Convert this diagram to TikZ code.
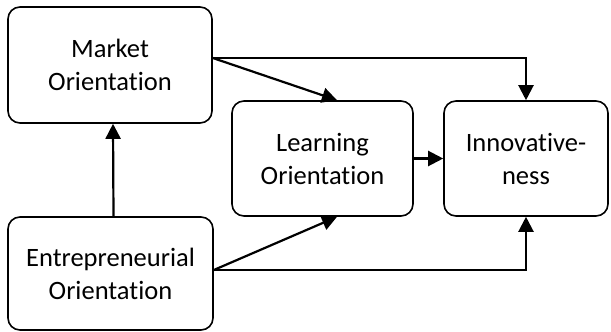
\documentclass[tikz,border=0pt]{standalone}
\usepackage{fontspec}
\setmainfont[Ligatures={NoCommon}]{Carlito}
\usetikzlibrary{arrows.meta}
\begin{document}
\begin{tikzpicture}[x=1pt,y=-1pt,
  box/.style={draw=black, line width=1.6pt, rounded corners=12pt, align=center,
    inner sep=0pt, font=\fontsize{26.5}{33}\selectfont},
  arr/.style={line width=2.2pt, -{Triangle[length=15pt,width=15pt]}}]
\useasboundingbox (0,0) rectangle (611,332);
\node[box, minimum width=204pt, minimum height=116pt] (M) at (110,65) {Market\\Orientation};
\node[box, minimum width=205pt, minimum height=113pt] (E) at (110.5,273.5) {Entrepreneurial\\Orientation};
\node[box, minimum width=181pt, minimum height=115pt] (L) at (322.5,158.5) {Learning\\Orientation};
\node[box, minimum width=164pt, minimum height=115pt] (I) at (526,158.5) {Innovative-\\ness};
\draw[arr] ([xshift=3pt]E.north) -- ([xshift=3pt]M.south);
\draw[arr] ([yshift=7pt]M.east) -- ([xshift=14.5pt]L.north);
\draw[arr] ([yshift=7pt]M.east) -| (I.north);
\draw[arr] (L.east) -- (I.west);
\draw[arr] ([yshift=3.5pt]E.east) -- ([xshift=14.5pt]L.south);
\draw[arr] ([yshift=3.5pt]E.east) -| (I.south);
\end{tikzpicture}
\end{document}
